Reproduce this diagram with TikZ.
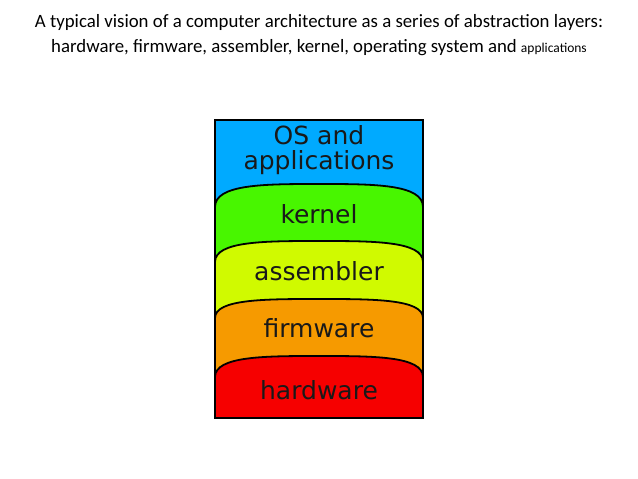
\documentclass[tikz,border=0pt]{standalone}
\usepackage{fontspec}
\setmainfont{Carlito}
\newfontfamily\layerfont{DejaVu Sans}
\usetikzlibrary{positioning}
\tikzset{layer/.style={
    draw=black,
    line width=1.8pt,
}}
\tikzset{label/.style={
    font=\layerfont\fontsize{25}{25}\selectfont,
    text=black!90,
    align=center,
    inner sep=0pt,
}}
\newcommand{\archlayer}[3]{% colour, side y, top y
    \filldraw[layer, fill=#1] (215,418) -- (215,#2)
        .. controls (215,#3) and (265,#3) .. (319,#3)
        .. controls (373,#3) and (423,#3) .. (423,#2) -- (423,418) -- cycle;
}

\begin{document}
\begin{tikzpicture}[x=1pt, y=-1pt]
    \useasboundingbox (0,0) rectangle (638,479);

    % title
    \node[font=\fontsize{18.8}{25}\selectfont, align=center] (title) at (319,35)
        {A typical vision of a computer architecture as a series of abstraction layers:\\
         hardware, firmware, assembler, kernel, operating system and {\fontsize{13.5}{14}\selectfont applications}};

    % layers
    \filldraw[layer, fill={rgb,255:red,0;green,170;blue,255}] (215,120) rectangle (423,418);
    \archlayer{{rgb,255:red,72;green,246;blue,0}}{207}{184}
    \archlayer{{rgb,255:red,208;green,250;blue,0}}{262}{241}
    \archlayer{{rgb,255:red,246;green,154;blue,0}}{318}{299}
    \archlayer{{rgb,255:red,246;green,0;blue,0}}{377}{356}
    \draw[layer] (215,120) rectangle (423,418);

    \node[label] (os) at (319,150) {OS and\\applications};
    \node[label] (kernel) at (319,214) {kernel};
    \node[label] (assembler) at (319,271) {assembler};
    \node[label] (firmware) at (319,328) {firmware};
    \node[label] (hardware) at (319,390) {hardware};
\end{tikzpicture}
\end{document}
